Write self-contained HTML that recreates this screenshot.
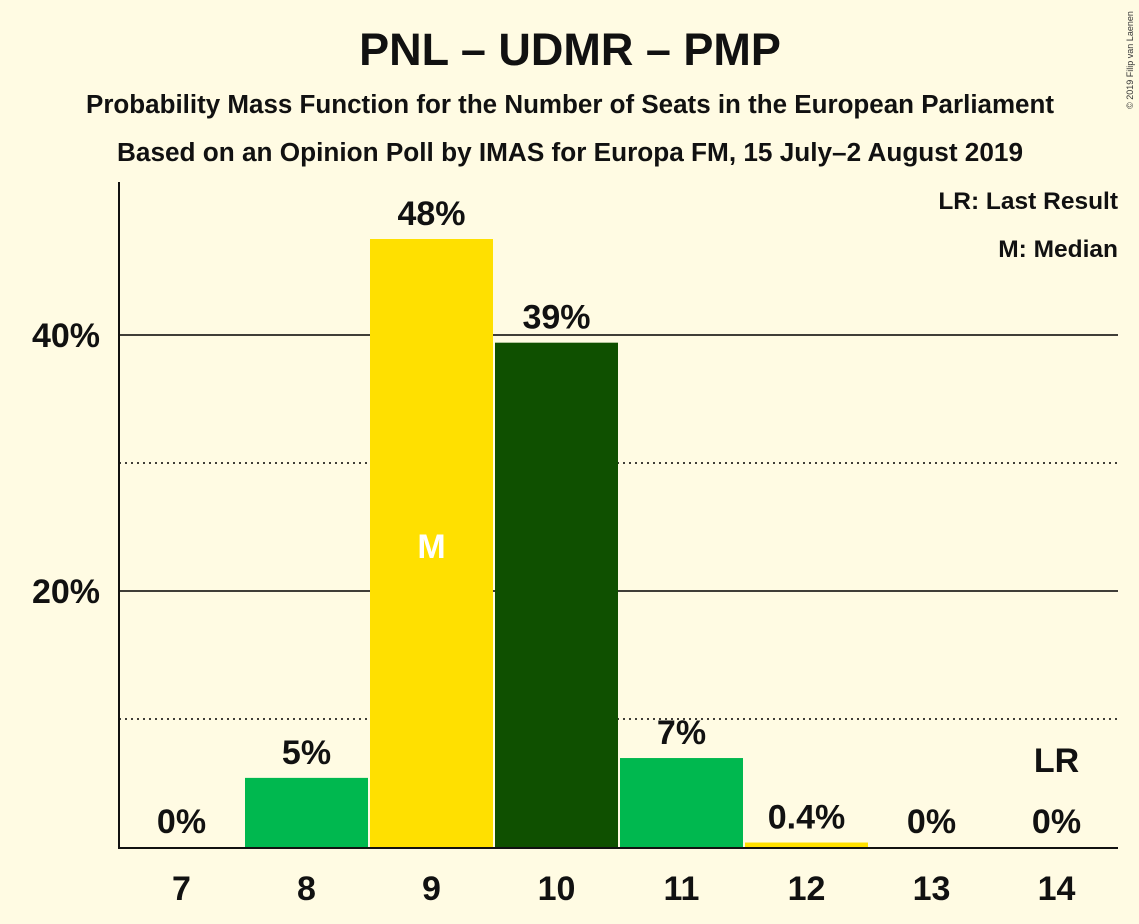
<!DOCTYPE html>
<html><head><meta charset="utf-8"><style>
body{margin:0;background:#fffbe3;}
svg{display:block;font-family:"Liberation Sans",sans-serif;font-weight:bold;}
</style></head><body>
<svg id="c" width="1139" height="924">
<rect width="1139" height="924" fill="#fffbe3"/>
<text x="570" y="65" font-size="45" text-anchor="middle" fill="#111">PNL – UDMR – PMP</text>
<text x="570" y="113" font-size="25.5" text-anchor="middle" fill="#111" textLength="968" lengthAdjust="spacingAndGlyphs">Probability Mass Function for the Number of Seats in the European Parliament</text>
<text x="570" y="161" font-size="25.5" text-anchor="middle" fill="#111" textLength="906" lengthAdjust="spacingAndGlyphs">Based on an Opinion Poll by IMAS for Europa FM, 15 July–2 August 2019</text>
<text x="1118" y="209" font-size="24.5" text-anchor="end" fill="#111">LR: Last Result</text>
<text x="1118" y="257" font-size="24.5" text-anchor="end" fill="#111">M: Median</text>
<text x="1133" y="60" font-size="9" font-weight="normal" fill="#333" transform="rotate(-90 1133 60)" text-anchor="middle">© 2019 Filip van Laenen</text>
<g id="grid"></g><g id="bars"></g><g id="labels"></g>
<line x1="119" y1="182" x2="119" y2="848" stroke="#111" stroke-width="2"/>
<line x1="118" y1="848" x2="1118" y2="848" stroke="#111" stroke-width="2"/>
</svg>
<script>
const seats=[7,8,9,10,11,12,13,14];
const probs=[0,5.4,47.5,39.4,6.95,0.35,0,0];
const valueLabels=["0%","5%","48%","39%","7%","0.4%","0%","0%"];
const colors=["#00b84f","#00b84f","#ffe000","#0f5000","#00b84f","#ffe000","#00b84f","#00b84f"];
const gridVals=[10,20,30,40];
const medianSeat=9, lastResultSeat=14;
const NS="http://www.w3.org/2000/svg";
const x0=119,step=125,base=847,pp=12.8;
const xs=i=>x0+i*step;
const ys=v=>base-v*pp;
function mk(t,a,p){const e=document.createElementNS(NS,t);for(const k in a)e.setAttribute(k,a[k]);p.appendChild(e);return e;}
const g=document.getElementById('grid'),b=document.getElementById('bars'),l=document.getElementById('labels');
gridVals.forEach(v=>{
  const solid=v%20===0;
  const ln=mk('line',{x1:x0,x2:1118,y1:ys(v),y2:ys(v),stroke:'#000','stroke-width':solid?1.5:1.5,'stroke-dasharray':solid?'none':'2,4'},g);
  
  
  if(solid){
    const t=mk('text',{x:100,y:ys(v)+12,'font-size':34,'text-anchor':'end',fill:'#111'},g);t.textContent=v+'%';
    
    
  }
});
seats.forEach((s,i)=>{
  const cx=xs(i)+step/2;
  const h=probs[i]*pp;
  if(h>0){
    const r=mk('rect',{x:xs(i)+1,y:ys(probs[i]),width:step-2,height:h,fill:colors[i]},b);
    
    
  }
  const t=mk('text',{x:cx,y:ys(probs[i])-14,'font-size':34,'text-anchor':'middle',fill:'#111'},l);
  t.textContent=valueLabels[i];
  
  
  const xt=mk('text',{x:cx,y:900,'font-size':34,'text-anchor':'middle',fill:'#111'},l);
  xt.textContent=s;
  
  
  if(s===medianSeat){
    const m=mk('text',{x:cx,y:558,'font-size':34,'text-anchor':'middle',fill:'#fff'},l);m.textContent='M';
    
    
  }
  if(s===lastResultSeat){
    const m=mk('text',{x:cx,y:772,'font-size':34,'text-anchor':'middle',fill:'#111'},l);m.textContent='LR';
    
    
  }
});
</script>
</body></html>
